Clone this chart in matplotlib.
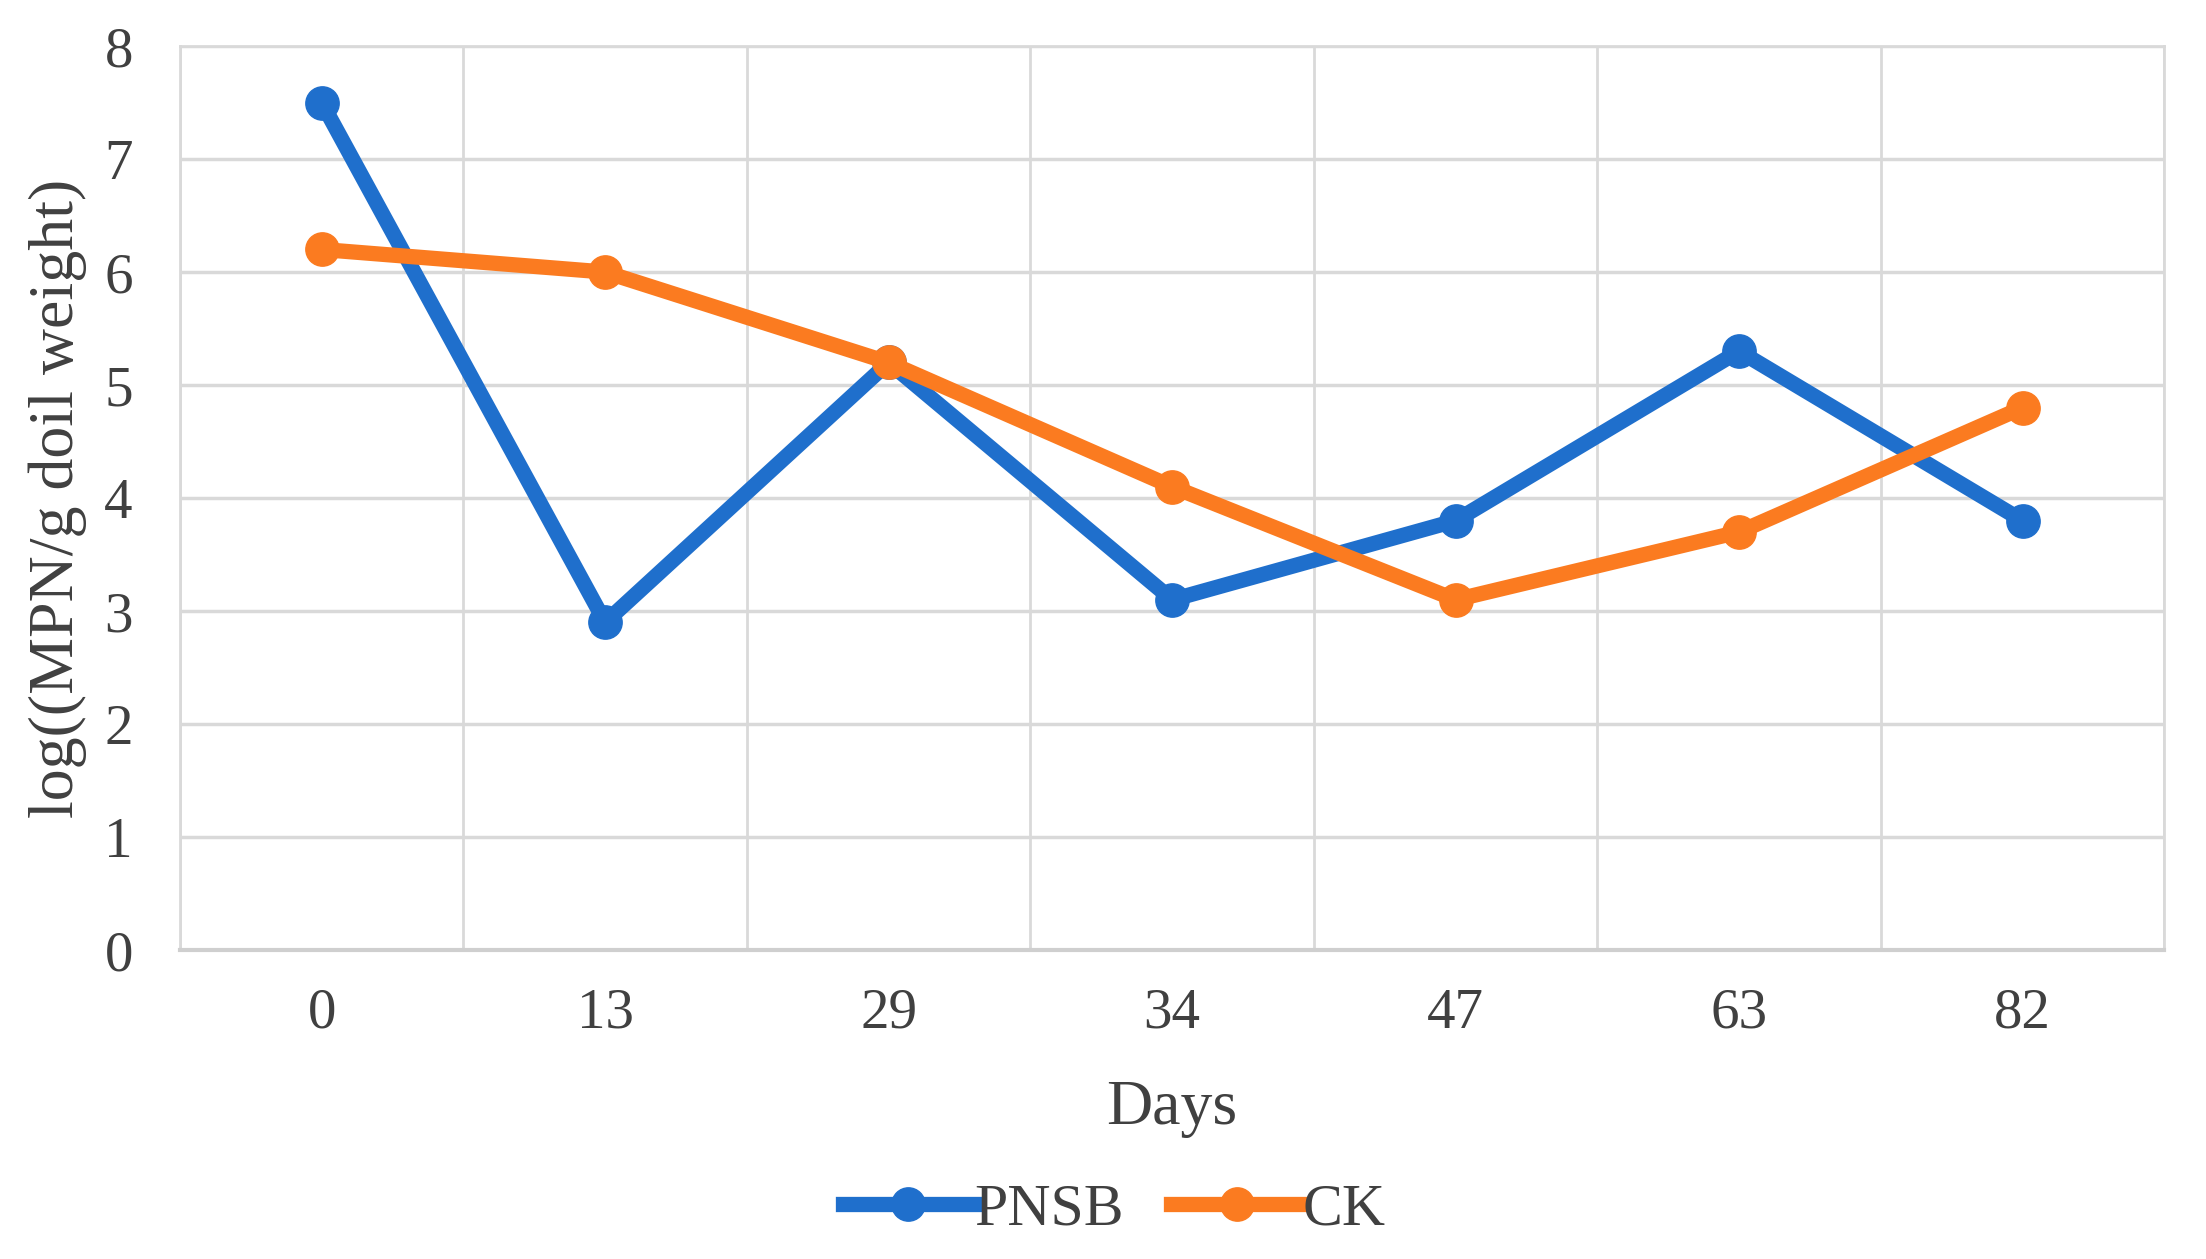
import numpy as np
import matplotlib.pyplot as plt

# dias de muestreo y valores
days = ["0", "13", "29", "34", "47", "63", "82"]
pnsb = [7.5, 2.9, 5.2, 3.1, 3.8, 5.3, 3.8]
ck = [6.2, 6.0, 5.2, 4.1, 3.1, 3.7, 4.8]

plt.rcParams['font.family'] = ['Liberation Serif', 'DejaVu Serif']

fig = plt.figure(figsize=(22.06, 12.59), dpi=100)
ax = fig.add_axes([0.0816, 0.2454, 0.8995, 0.718])

x = np.arange(len(days))
ax.plot(x, pnsb, color='#1f6fcc', lw=11, marker='o', ms=24, label='PNSB', zorder=3)
ax.plot(x, ck, color='#fb7b20', lw=11, marker='o', ms=24, label='CK', zorder=3)

ax.set_xlim(-0.5, len(days) - 0.5)
ax.set_ylim(0, 8)
ax.set_yticks(range(0, 9))
ax.set_xticks(x)
ax.set_xticklabels(days)

# cuadricula estilo excel
ax.set_xticks(np.arange(-0.5, len(days)), minor=True)
ax.grid(True, axis='y', color='#d9d9d9', lw=2.5)
ax.grid(True, axis='x', which='minor', color='#d9d9d9', lw=2)
ax.tick_params(which='both', length=0)
ax.tick_params(axis='y', labelsize=41, colors='#404040', pad=34)
ax.tick_params(axis='x', labelsize=41, colors='#404040', pad=27)
ax.set_axisbelow(True)

for s in ['top', 'left', 'right']:
    ax.spines[s].set_color('#d9d9d9')
    ax.spines[s].set_linewidth(2)
ax.spines['bottom'].set_color('#cfcfcf')
ax.spines['bottom'].set_linewidth(3)

ax.set_xlabel('Days', fontsize=46, color='#404040', labelpad=29)
ax.set_ylabel('log((MPN/g doil weight)', fontsize=46, color='#404040', labelpad=12)

fig.legend(loc='lower center', bbox_to_anchor=(0.505, -0.026), ncol=2, frameon=False,
           fontsize=43, handlelength=2.2, handletextpad=0.0, columnspacing=0.8,
           labelcolor='#404040')

fig.savefig('out.png', dpi=100)
